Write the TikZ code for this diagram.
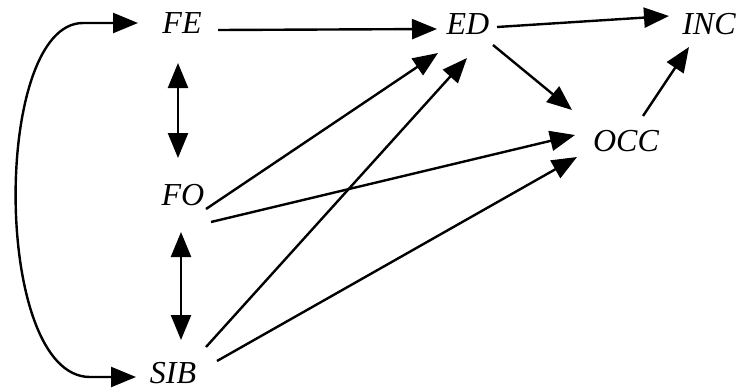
\documentclass[tikz,border=0pt]{standalone}
\usepackage{fontspec}
\setmainfont{Liberation Serif}
\usetikzlibrary{arrows.meta}
\begin{document}
\begin{tikzpicture}[x=1pt,y=-1pt,
  lbl/.style={inner sep=0pt,font=\fontsize{32}{32}\selectfont\itshape},
  arr/.style={line width=2.4pt,-{Triangle[length=25pt,width=20pt]}},
  darr/.style={line width=2.4pt,{Triangle[length=25pt,width=20pt]}-{Triangle[length=25pt,width=20pt]}}]
\useasboundingbox (0,0) rectangle (738,389);
\node[lbl] (FE) at (182,23.5) {FE};
\node[lbl] (ED) at (468,24) {ED};
\node[lbl] (INC) at (709,24) {INC};
\node[lbl] (OCC) at (626,141) {OCC};
\node[lbl] (FO) at (183,195) {FO};
\node[lbl] (SIB) at (173,373) {SIB};
% connectors
\draw[arr] ([shift={(36,6.5)}]FE.center) -- ([shift={(-31,5)}]ED.center);
\draw[arr] ([shift={(29,3)}]ED.center) -- ([shift={(-40,-8)}]INC.center);
\draw[arr] ([shift={(25,21)}]ED.center) -- ([shift={(-54,-31)}]OCC.center);
\draw[arr] ([shift={(17,-25)}]OCC.center) -- ([shift={(-20,23)}]INC.center);
\draw[arr] ([shift={(23,14)}]FO.center) -- ([shift={(-30,29)}]ED.center);
\draw[arr] ([shift={(28,27)}]FO.center) -- ([shift={(-51,-6)}]OCC.center);
\draw[arr] ([shift={(33,-26)}]SIB.center) -- ([shift={(-1,34)}]ED.center);
\draw[arr] ([shift={(44,-12)}]SIB.center) -- ([shift={(-49,16)}]OCC.center);
\draw[darr] ([shift={(-4,39.5)}]FE.center) -- ([shift={(-5,-37)}]FO.center);
\draw[darr] ([shift={(-2,37)}]FO.center) -- ([shift={(8,-33)}]SIB.center);
\draw[darr] ([shift={(-44,-0.5)}]FE.center) -- (83,23) .. controls (-8,23) and (-8,377) .. (90,377) -- ([shift={(-37,4)}]SIB.center);
\end{tikzpicture}
\end{document}
